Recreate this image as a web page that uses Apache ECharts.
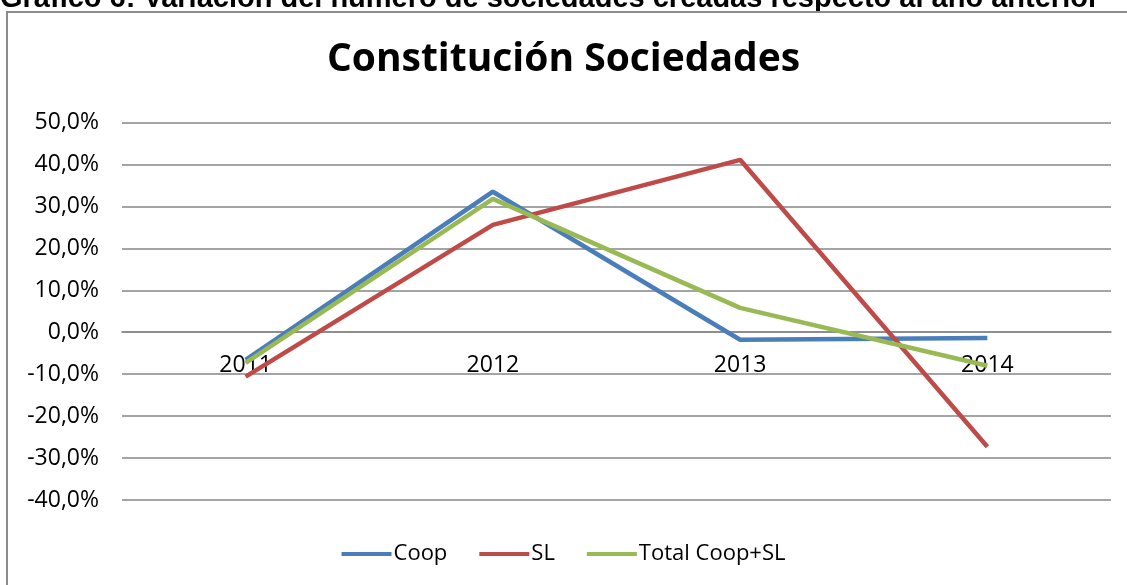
<!DOCTYPE html>
<html>
<head>
    <meta charset="UTF-8">
    <title>Constitución Sociedades</title>
    <script src="https://cdn.jsdelivr.net/npm/echarts@6/dist/echarts.min.js"></script>
</head>
<body style="margin: 0;overflow: hidden;background: #fff;">
<div id="chart" style="width: 1127px;height: 585px"></div>
<script type="text/javascript">
    // años y variación (%) respecto al año anterior
    var years = ['2011', '2012', '2013', '2014'];
    var coop = [-6.6, 33.5, -1.8, -1.4];
    var sl = [-10.6, 25.6, 41.1, -27.3];
    var total = [-7.3, 31.8, 5.8, -8.0];
    var yTicks = {min: -40, max: 50, interval: 10};

    var font = 'Open Sans';
    var gridTop = 122.5, gridBottom = 85, height = 585;
    // desplazamiento del eje X hasta la línea del 0
    var plotH = height - gridTop - gridBottom;
    var zeroOffset = -plotH * (0 - yTicks.min) / (yTicks.max - yTicks.min);

    var chart = echarts.init(document.getElementById('chart'));

    function lineSerie(name, data, color) {
        return {
            name: name,
            type: 'line',
            data: data,
            symbol: 'none',
            smooth: false,
            lineStyle: {width: 4.5, color: color},
            itemStyle: {color: color}
        };
    }

    var option = {
        backgroundColor: '#fff',
        animation: false,
        title: {
            text: 'Constitución Sociedades',
            left: 'center',
            top: 35,
            textStyle: {fontFamily: font, fontSize: 39, fontWeight: 'bold', color: '#000'}
        },
        graphic: [
            {
                type: 'text',
                left: 0,
                top: -16,
                style: {
                    text: 'Gráfico 6: Variación del número de sociedades creadas respecto al año anterior',
                    font: 'bold 29px "Liberation Sans", Arial, sans-serif',
                    fill: '#000'
                }
            },
            {
                type: 'rect',
                shape: {x: 7, y: 12, width: 1300, height: 700},
                style: {fill: 'none', stroke: '#8c8c8c', lineWidth: 2}
            }
        ],
        legend: {
            bottom: 15,
            left: 'center',
            icon: 'rect',
            itemWidth: 50,
            itemHeight: 4,
            itemGap: 32,
            textStyle: {fontFamily: font, fontSize: 22, color: '#000', padding: [0, 0, 0, -3]},
            data: ['Coop', 'SL', 'Total Coop+SL']
        },
        grid: {left: 122, right: 16, top: gridTop, bottom: gridBottom},
        xAxis: {
            type: 'category',
            data: years,
            boundaryGap: true,
            offset: zeroOffset,
            axisLine: {onZero: false, lineStyle: {color: '#868686', width: 1.5}},
            axisTick: {show: false},
            axisLabel: {fontFamily: font, fontSize: 23, color: '#000', margin: 22}
        },
        yAxis: {
            type: 'value',
            min: yTicks.min,
            max: yTicks.max,
            interval: yTicks.interval,
            axisLine: {show: false},
            axisTick: {show: false},
            splitLine: {lineStyle: {color: '#868686', width: 1.5}},
            axisLabel: {
                fontFamily: font, fontSize: 23, color: '#000', margin: 23,
                formatter: function (v) {
                    return v.toFixed(1).replace('.', ',') + '%';
                }
            }
        },
        series: [
            lineSerie('Coop', coop, '#4a7ebb'),
            lineSerie('SL', sl, '#be4b48'),
            lineSerie('Total Coop+SL', total, '#98b954')
        ]
    };
    chart.setOption(option);
</script>
</body>
</html>
